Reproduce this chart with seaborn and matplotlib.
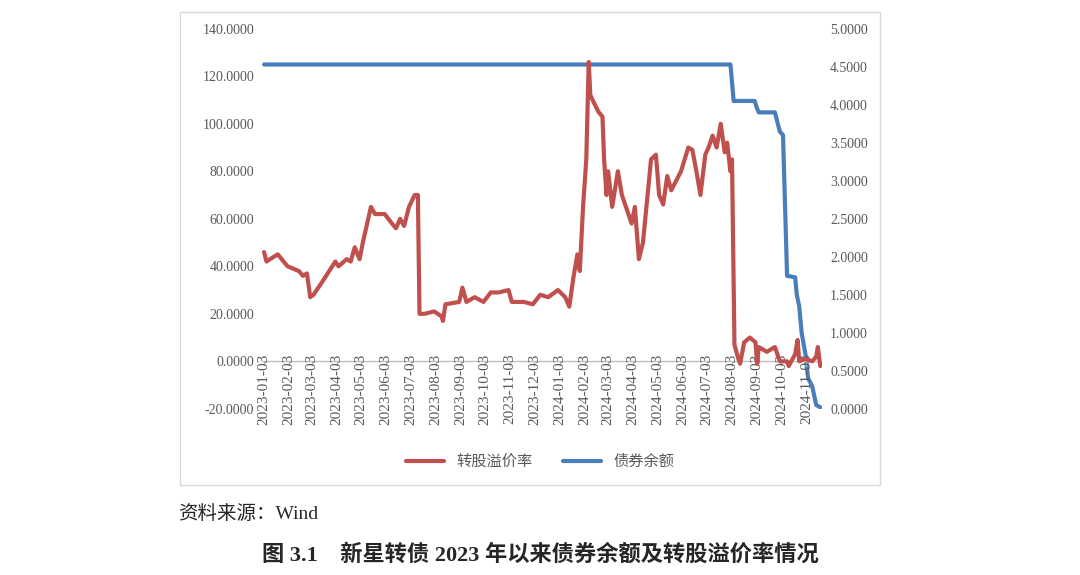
import pandas as pd
import numpy as np
import matplotlib
matplotlib.use("Agg")
import matplotlib.pyplot as plt
import seaborn as sns
from matplotlib.patches import Rectangle

sns.set_theme(style="white")
plt.rcParams['font.family'] = ['Liberation Serif', 'Noto Sans CJK SC']

# conversion premium (%) breakpoints
premium_dates = [
    "2023-01-03", "2023-01-06", "2023-01-15", "2023-01-20", "2023-02-01", "2023-02-15", "2023-02-20",
    "2023-02-25", "2023-03-01", "2023-03-05", "2023-03-15", "2023-04-01", "2023-04-05", "2023-04-15",
    "2023-04-20", "2023-04-25", "2023-05-01", "2023-05-05", "2023-05-15", "2023-05-20", "2023-06-01",
    "2023-06-10", "2023-06-15", "2023-06-20", "2023-06-25", "2023-07-01", "2023-07-08", "2023-07-12",
    "2023-07-14", "2023-07-20", "2023-08-01", "2023-08-10", "2023-08-12", "2023-08-15", "2023-09-01",
    "2023-09-05", "2023-09-10", "2023-09-20", "2023-10-01", "2023-10-10", "2023-10-20", "2023-11-01",
    "2023-11-05", "2023-11-20", "2023-12-01", "2023-12-10", "2023-12-20", "2024-01-01", "2024-01-10",
    "2024-01-15", "2024-01-20", "2024-01-25", "2024-01-28", "2024-02-01", "2024-02-05", "2024-02-08",
    "2024-02-10", "2024-02-20", "2024-02-25", "2024-02-27", "2024-03-01", "2024-03-03", "2024-03-08",
    "2024-03-15", "2024-03-20", "2024-04-01", "2024-04-05", "2024-04-10", "2024-04-15", "2024-04-25",
    "2024-05-01", "2024-05-05", "2024-05-10", "2024-05-15", "2024-05-20", "2024-06-01", "2024-06-10",
    "2024-06-15", "2024-06-20", "2024-06-25", "2024-07-01", "2024-07-05", "2024-07-10", "2024-07-15",
    "2024-07-20", "2024-07-25", "2024-07-28", "2024-08-01", "2024-08-03", "2024-08-06", "2024-08-10",
    "2024-08-13", "2024-08-18", "2024-08-25", "2024-09-01", "2024-09-03", "2024-09-05", "2024-09-15",
    "2024-09-25", "2024-10-01", "2024-10-10", "2024-10-12", "2024-10-20", "2024-10-23", "2024-10-25",
    "2024-11-01", "2024-11-10", "2024-11-15", "2024-11-17", "2024-11-20",
]
premium_values = [
    46, 42, 44, 45, 40, 38, 36, 37, 27, 28, 33, 42, 40, 43, 42, 48, 43, 50, 65, 62, 62,
    58, 56, 60, 57, 65, 70, 70, 20, 20, 21, 19, 17, 24, 25, 31, 25, 27, 25, 29, 29, 30,
    25, 25, 24, 28, 27, 30, 27, 23, 35, 45, 38, 65, 85, 126, 112, 105, 103, 85, 70, 80,
    65, 80, 70, 58, 65, 43, 50, 85, 87, 70, 66, 78, 72, 80, 90, 89, 80, 70, 87, 90, 95,
    90, 100, 88, 92, 80, 85, 7, 2, -1, 8, 10, 8, -1, 6, 4, 6, 0, 0, -2, 3, 9, 0, 1, 0, 2, 6, -2,
]

# outstanding balance (100m yuan)
balance_dates = [
    "2023-01-03", "2024-08-01", "2024-08-02", "2024-08-05", "2024-08-31", "2024-09-03", "2024-09-05",
    "2024-09-25", "2024-10-01", "2024-10-05", "2024-10-10", "2024-10-20", "2024-10-22", "2024-10-25",
    "2024-10-28", "2024-11-02", "2024-11-05", "2024-11-10", "2024-11-15", "2024-11-20",
]
balance_values = [4.53, 4.53, 4.42, 4.05, 4.05, 3.95, 3.90, 3.90, 3.65, 3.60, 1.75, 1.73, 1.50,
                  1.35, 1.00, 0.70, 0.40, 0.30, 0.05, 0.02]

tick_labels = [
    "2023-01-03", "2023-02-03", "2023-03-03", "2023-04-03", "2023-05-03", "2023-06-03",
    "2023-07-03", "2023-08-03", "2023-09-03", "2023-10-03", "2023-11-03", "2023-12-03",
    "2024-01-03", "2024-02-03", "2024-03-03", "2024-04-03", "2024-05-03", "2024-06-03",
    "2024-07-03", "2024-08-03", "2024-09-03", "2024-10-03", "2024-11-03",
]
tick_dates = pd.to_datetime(tick_labels)

prem = pd.DataFrame({"date": pd.to_datetime(premium_dates), "value": premium_values})
bal = pd.DataFrame({"date": pd.to_datetime(balance_dates), "value": balance_values})

fig = plt.figure(figsize=(10.8, 5.75), dpi=100)
fig.patches.append(Rectangle((180 / 1080, 1 - 485 / 575), 700 / 1080, 473 / 575,
                             transform=fig.transFigure, fill=False, edgecolor="#d9d9d9", lw=1))
ax = fig.add_axes([0.243, 0.289, 0.518, 0.661])
ax2 = ax.twinx()

red = "#c0504d"
blue = "#4a7ebb"
sns.lineplot(data=bal, x="date", y="value", ax=ax2, color=blue, lw=3, label="债券余额", legend=False)
sns.lineplot(data=prem, x="date", y="value", ax=ax, color=red, lw=3, label="转股溢价率", legend=False)
ax.set_zorder(ax2.get_zorder() + 1)
ax.patch.set_visible(False)

ax.set_ylim(-20, 140)
ax.set_yticks(np.arange(-20, 141, 20))
ax.set_yticklabels([f"{v:.4f}" for v in np.arange(-20, 141, 20)])
ax2.set_ylim(0, 5)
ax2.set_yticks(np.arange(0, 5.01, 0.5))
ax2.set_yticklabels([f"{v:.4f}" for v in np.arange(0, 5.01, 0.5)])
ax.set_xlim(pd.Timestamp("2023-01-01"), pd.Timestamp("2024-11-22"))
ax.set_xticks(tick_dates)
ax.set_xticklabels(tick_labels, rotation=90)
for a in (ax, ax2):
    a.set_xlabel("")
    a.set_ylabel("")
    for s in a.spines.values():
        s.set_visible(False)
    a.tick_params(axis="both", labelsize=10, colors="#595959", length=0, pad=6)
ax.axhline(0, color="#bfbfbf", lw=1, zorder=0)
ax.xaxis.set_ticks_position("none")
# ticks on the zero line
ax.vlines(tick_dates, -1.8, 0, color="#bfbfbf", lw=1, zorder=0)
ax.tick_params(axis="x", length=0, pad=-40, labelsize=11)
for lbl in ax.get_xticklabels():
    lbl.set_va("top")

h1, l1 = ax.get_legend_handles_labels()
h2, l2 = ax2.get_legend_handles_labels()
fig.legend(h1 + h2, l1 + l2, loc="center", bbox_to_anchor=(540 / 1080, 1 - 462 / 575), ncol=2,
           frameon=False, fontsize=11, labelcolor="#595959", handlelength=2.5, columnspacing=2)

fig.text(178 / 1080, 1 - 514 / 575, "资料来源：Wind", fontsize=14, va="center", ha="left")
fig.text(540 / 1080, 1 - 555 / 575, "图 3.1    新星转债 2023 年以来债券余额及转股溢价率情况",
         fontsize=16, fontweight="bold", va="center", ha="center")

fig.savefig("out.png", dpi=100)
